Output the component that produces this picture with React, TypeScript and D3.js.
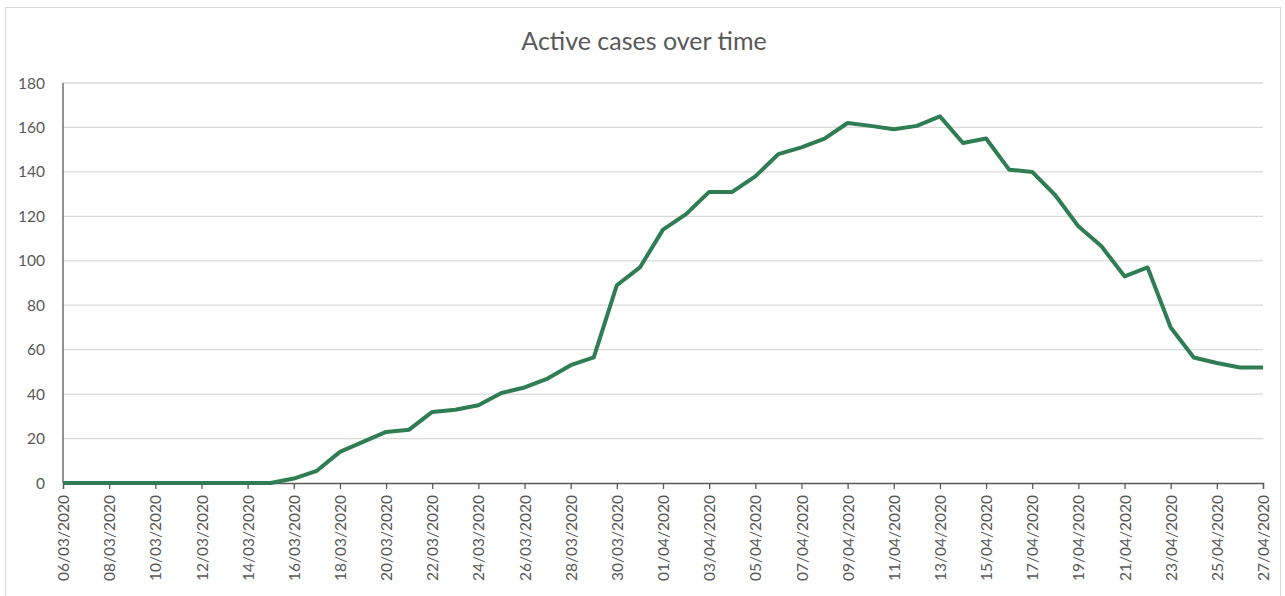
import * as d3 from "d3";
import { useRef, useEffect } from "react";

// days from 06/03/2020 to 27/04/2020
const startDate = new Date(2020, 2, 6);
const activeCases = [
  0, 0, 0, 0, 0, 0, 0, 0, 0, 0,
  2, 5.5, 14, 18.5, 23, 24, 32, 33, 35, 40.5,
  43, 47, 53, 56.5, 89, 97, 114, 121, 131, 131,
  138, 148, 151, 155, 162, 160.7, 159.2, 160.7, 165, 153,
  155, 141, 140, 129.5, 115.5, 106.5, 93, 97, 70, 56.5,
  54, 52, 52,
];
const yTicks = [0, 20, 40, 60, 80, 100, 120, 140, 160, 180];
const title = "Active cases over time";

const fmt = d3.timeFormat("%d/%m/%Y");

export default function App({
  width = 1285,
  height = 596,
  marginTop = 83,
  marginRight = 22,
  marginBottom = 113,
  marginLeft = 63,
}: {
  width?: number
  height?: number
  marginTop?: number
  marginRight?: number
  marginBottom?: number
  marginLeft?: number
}) {
  const gx = useRef<SVGGElement | null>(null);

  const dates = activeCases.map((_, i) => d3.timeDay.offset(startDate, i));
  const x = d3.scaleTime([dates[0], dates[dates.length - 1]], [marginLeft, width - marginRight]);
  const y = d3.scaleLinear([0, 180], [height - marginBottom, marginTop]);
  const line = d3.line<number>((_, i) => x(dates[i]), y);
  const tickDates = dates.filter((_, i) => i % 2 === 0);

  useEffect(() => {
    document.body.style.margin = "0";
    if (gx.current) {
      const g = d3.select(gx.current)
        .call(d3.axisBottom(x).tickValues(tickDates).tickFormat((d) => fmt(d as Date)).tickSizeOuter(0).tickSize(6));
      g.select(".domain").attr("stroke", "#595959").attr("stroke-width", 1.3);
      g.selectAll(".tick line").attr("stroke", "#595959").attr("stroke-width", 1.3);
      g.selectAll(".tick text")
        .attr("transform", "rotate(-90)")
        .attr("text-anchor", "end")
        .attr("x", -12)
        .attr("y", 0)
        .attr("dy", "0.36em")
        .attr("fill", "#595959")
        .style("font-family", "Lato, 'Open Sans', sans-serif")
        .style("font-size", "15.5px");
    }
  }, [gx, x, width, height]);

  const fontFamily = "Lato, 'Open Sans', sans-serif";

  return (
    <svg width={width} height={height} style={{ display: "block", background: "white" }}>
      <rect x={5.5} y={7.5} width={width - 5 - 5} height={height} fill="white" stroke="#d9d9d9" strokeWidth={1} />
      <text x={644} y={50} textAnchor="middle" fill="#595959"
        style={{ fontFamily, fontSize: "25px" }}>{title}</text>
      <g>
        {yTicks.map((t) => (
          <g key={t}>
            {t > 0 && <line x1={marginLeft} x2={width - marginRight} y1={y(t)} y2={y(t)} stroke="#d9d9d9" strokeWidth={1.3} />}
            <text x={45} y={y(t)} dy="0.36em" textAnchor="end" fill="#595959" style={{ fontFamily, fontSize: "15.5px" }}>{t}</text>
          </g>
        ))}
      </g>
      <line x1={marginLeft} x2={marginLeft} y1={marginTop} y2={height - marginBottom} stroke="#595959" strokeWidth={1.3} />
      <g ref={gx} transform={`translate(0,${height - marginBottom})`} />
      <path fill="none" stroke="#2f7d52" strokeWidth={4} strokeLinejoin="round" d={line(activeCases) ?? ""} />
    </svg>
  );
}
